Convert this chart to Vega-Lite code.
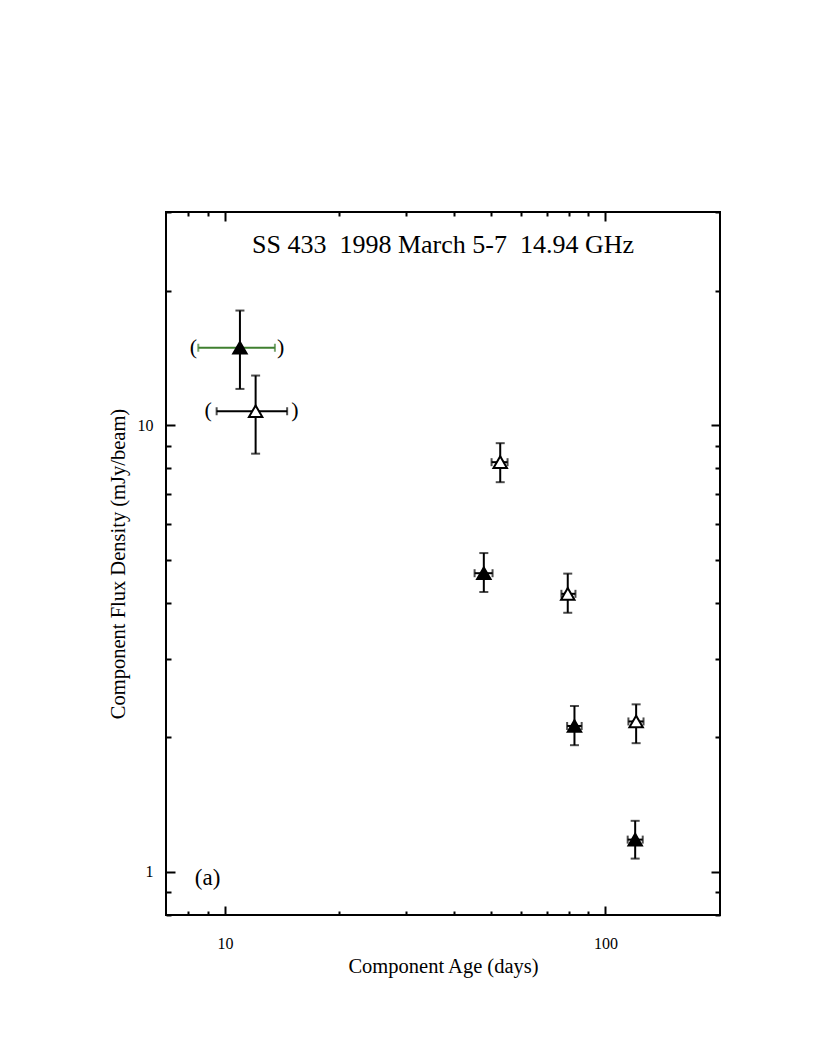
{
  "$schema": "https://vega.github.io/schema/vega-lite/v6.json",
  "width": 554,
  "height": 703,
  "autosize": "none",
  "padding": {"left": 166, "top": 212, "right": 110, "bottom": 140},
  "background": "white",
  "config": {"view": {"stroke": "black", "strokeWidth": 2}, "font": "Liberation Serif"},
  "title": {"text": "SS 433\u00a0\u00a01998 March 5-7\u00a0\u00a014.94 GHz", "orient": "top", "anchor": "middle", "offset": -47, "font": "Liberation Serif", "fontSize": 26, "fontWeight": "normal", "color": "black"},
  "data": {"values": [
    {"kind": "filled", "age": 10.95, "flux": 14.9, "flux_lo": 12.05, "flux_hi": 18.05, "age_lo": 8.51, "age_hi": 13.53, "paren_lo": 8.26, "paren_hi": 14.0},
    {"kind": "filled", "age": 47.9, "flux": 4.66, "flux_lo": 4.23, "flux_hi": 5.17, "age_lo": 45.3, "age_hi": 50.5},
    {"kind": "filled", "age": 82.9, "flux": 2.12, "flux_lo": 1.92, "flux_hi": 2.35, "age_lo": 79.3, "age_hi": 86.6},
    {"kind": "filled", "age": 119.7, "flux": 1.18, "flux_lo": 1.07, "flux_hi": 1.30, "age_lo": 114.4, "age_hi": 125.3},
    {"kind": "open", "age": 12.04, "flux": 10.74, "flux_lo": 8.63, "flux_hi": 12.91, "age_lo": 9.51, "age_hi": 14.57, "paren_lo": 9.04, "paren_hi": 15.26},
    {"kind": "open", "age": 52.9, "flux": 8.26, "flux_lo": 7.45, "flux_hi": 9.11, "age_lo": 50.2, "age_hi": 55.3},
    {"kind": "open", "age": 79.6, "flux": 4.19, "flux_lo": 3.80, "flux_hi": 4.65, "age_lo": 76.6, "age_hi": 83.4},
    {"kind": "open", "age": 120.4, "flux": 2.17, "flux_lo": 1.94, "flux_hi": 2.37, "age_lo": 114.9, "age_hi": 125.9}
  ]},
  "resolve": {"axis": {"x": "independent", "y": "independent"}},
  "layer": [
    {
      "mark": {"type": "rule", "strokeWidth": 2, "color": "black"},
      "encoding": {
        "x": {"field": "age", "type": "quantitative",
          "scale": {"type": "log", "domain": [7, 200], "nice": false},
          "axis": {"orient": "bottom", "values": [8, 9, 10, 20, 30, 40, 50, 60, 70, 80, 90, 100],
            "labelExpr": "datum.value == 10 ? '10' : datum.value == 100 ? '100' : ''",
            "tickSize": {"condition": {"test": "datum.value == 10 || datum.value == 100", "value": -9}, "value": -4},
            "tickWidth": 2, "tickColor": "black", "domain": false, "grid": false,
            "labelFont": "Liberation Serif", "labelFontSize": 16, "labelColor": "black", "labelPadding": 29,
            "title": "Component Age (days)", "titleFont": "Liberation Serif", "titleFontSize": 20.5, "titleFontWeight": "normal", "titleColor": "black", "titlePadding": 5}},
        "y": {"field": "flux_lo", "type": "quantitative",
          "scale": {"type": "log", "domain": [0.8, 30], "nice": false},
          "axis": {"orient": "left", "values": [0.8, 0.9, 1, 2, 3, 4, 5, 6, 7, 8, 9, 10, 20, 30],
            "labelExpr": "datum.value == 1 ? '1' : datum.value == 10 ? '10' : ''",
            "tickSize": {"condition": {"test": "datum.value == 1 || datum.value == 10", "value": -9}, "value": -5},
            "tickWidth": 2, "tickColor": "black", "domain": false, "grid": false,
            "labelFont": "Liberation Serif", "labelFontSize": 16, "labelColor": "black", "labelPadding": 22,
            "title": "Component Flux Density (mJy/beam)", "titleFont": "Liberation Serif", "titleFontSize": 20.5, "titleFontWeight": "normal", "titleColor": "black", "titlePadding": 9}},
        "y2": {"field": "flux_hi"}
      }
    },
    {
      "mark": {"type": "rule", "strokeWidth": 2},
      "encoding": {
        "x": {"field": "age_lo", "type": "quantitative",
          "axis": {"orient": "top", "values": [8, 9, 10, 20, 30, 40, 50, 60, 70, 80, 90, 100],
            "labels": false, "title": null, "domain": false, "grid": false,
            "tickSize": {"condition": {"test": "datum.value == 10 || datum.value == 100", "value": -9}, "value": -4},
            "tickWidth": 2, "tickColor": "black"}},
        "x2": {"field": "age_hi"},
        "y": {"field": "flux", "type": "quantitative",
          "axis": {"orient": "right", "values": [0.8, 0.9, 1, 2, 3, 4, 5, 6, 7, 8, 9, 10, 20, 30],
            "labels": false, "title": null, "domain": false, "grid": false,
            "tickSize": {"condition": {"test": "datum.value == 1 || datum.value == 10", "value": -9}, "value": -5},
            "tickWidth": 2, "tickColor": "black"}},
        "color": {"condition": {"test": "datum.kind == 'filled' && datum.age < 20", "value": "#3f7f2f"}, "value": "black"}
      }
    },
    {
      "mark": {"type": "tick", "orient": "horizontal", "size": 9, "thickness": 2, "color": "black"},
      "encoding": {
        "x": {"field": "age", "type": "quantitative", "axis": null},
        "y": {"field": "flux_lo", "type": "quantitative", "axis": null}
      }
    },
    {
      "mark": {"type": "tick", "orient": "horizontal", "size": 9, "thickness": 2, "color": "black"},
      "encoding": {
        "x": {"field": "age", "type": "quantitative", "axis": null},
        "y": {"field": "flux_hi", "type": "quantitative", "axis": null}
      }
    },
    {
      "mark": {"type": "tick", "orient": "vertical", "size": 8, "thickness": 2},
      "encoding": {
        "x": {"field": "age_lo", "type": "quantitative", "axis": null},
        "y": {"field": "flux", "type": "quantitative", "axis": null},
        "color": {"condition": {"test": "datum.kind == 'filled' && datum.age < 20", "value": "#3f7f2f"}, "value": "black"}
      }
    },
    {
      "mark": {"type": "tick", "orient": "vertical", "size": 8, "thickness": 2},
      "encoding": {
        "x": {"field": "age_hi", "type": "quantitative", "axis": null},
        "y": {"field": "flux", "type": "quantitative", "axis": null},
        "color": {"condition": {"test": "datum.kind == 'filled' && datum.age < 20", "value": "#3f7f2f"}, "value": "black"}
      }
    },
    {
      "mark": {"type": "point", "shape": "triangle-up", "size": 180, "strokeWidth": 2, "stroke": "black", "opacity": 1, "filled": true},
      "encoding": {
        "x": {"field": "age", "type": "quantitative", "axis": null},
        "y": {"field": "flux", "type": "quantitative", "axis": null},
        "fill": {"condition": {"test": "datum.kind == 'filled'", "value": "black"}, "value": "white"}
      }
    },
    {
      "transform": [{"filter": "isValid(datum.paren_lo)"}],
      "mark": {"type": "text", "text": "(", "font": "Liberation Serif", "fontSize": 22, "color": "black", "baseline": "middle", "align": "center", "dy": -1},
      "encoding": {
        "x": {"field": "paren_lo", "type": "quantitative", "axis": null},
        "y": {"field": "flux", "type": "quantitative", "axis": null}
      }
    },
    {
      "transform": [{"filter": "isValid(datum.paren_hi)"}],
      "mark": {"type": "text", "text": ")", "font": "Liberation Serif", "fontSize": 22, "color": "black", "baseline": "middle", "align": "center", "dy": -1},
      "encoding": {
        "x": {"field": "paren_hi", "type": "quantitative", "axis": null},
        "y": {"field": "flux", "type": "quantitative", "axis": null}
      }
    },
    {
      "data": {"values": [{"label": "(a)", "age": 9.0, "flux": 0.97}]},
      "mark": {"type": "text", "font": "Liberation Serif", "fontSize": 23, "fontWeight": "normal", "color": "black", "baseline": "middle", "align": "center"},
      "encoding": {
        "text": {"field": "label"},
        "x": {"field": "age", "type": "quantitative", "axis": null},
        "y": {"field": "flux", "type": "quantitative", "axis": null}
      }
    }
  ]
}
